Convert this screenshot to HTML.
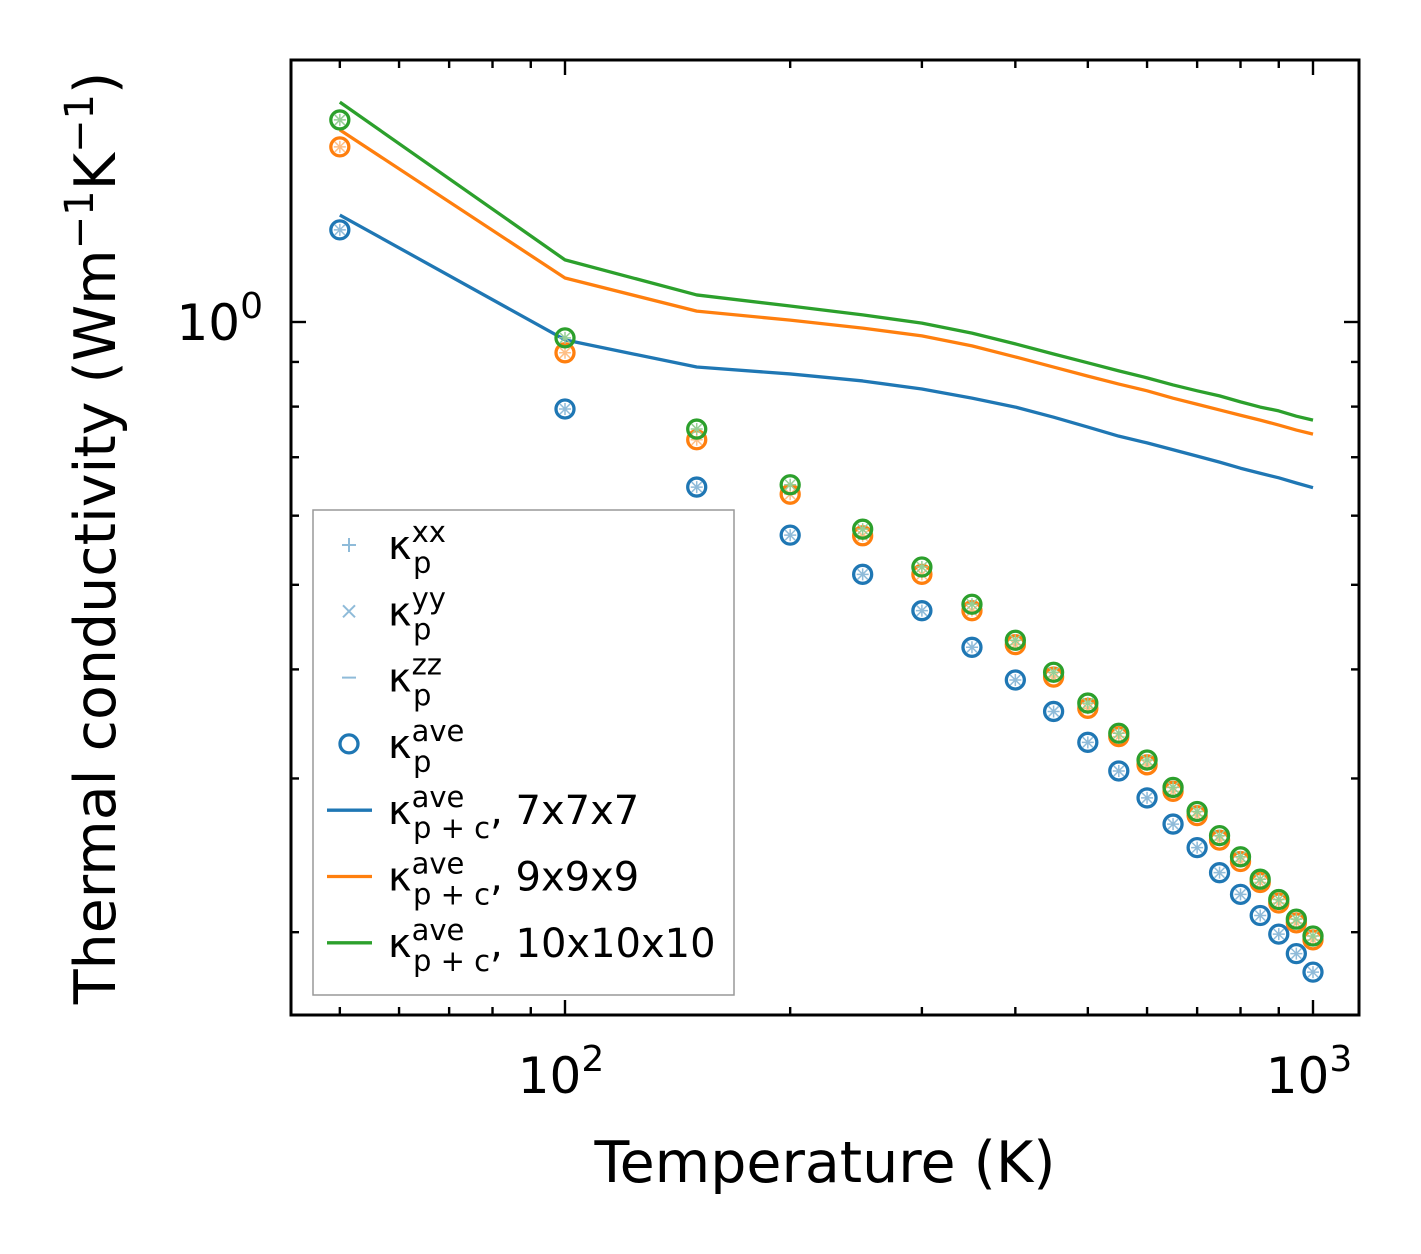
<!DOCTYPE html>
<html><head><meta charset="utf-8"><style>
body{margin:0;background:#fff}
svg{display:block;font-family:"DejaVu Sans","Liberation Sans",sans-serif}
</style></head><body>
<svg id="chart" width="1421" height="1254" viewBox="0 0 1421 1254" xmlns="http://www.w3.org/2000/svg">
<g id="marks"></g>
<g id="axes"></g>
<g id="legend"></g>
</svg>
<script>
const temps = [50,100,150,200,250,300,350,400,450,500,550,600,650,700,750,800,850,900,950,1000];
const kp7 = [1.275,0.795,0.647,0.570,0.514,0.467,0.424,0.389,0.358,0.330,0.306,0.285,0.266,0.250,0.234,0.221,0.209,0.199,0.189,0.180];
const kp9 = [1.587,0.922,0.733,0.635,0.569,0.514,0.467,0.427,0.392,0.361,0.335,0.311,0.290,0.272,0.255,0.241,0.228,0.216,0.205,0.196];
const kp10 = [1.704,0.959,0.754,0.651,0.579,0.524,0.475,0.432,0.397,0.366,0.338,0.315,0.293,0.275,0.258,0.244,0.230,0.218,0.207,0.198];
const kpc7 = [1.326,0.954,0.888,0.872,0.856,0.838,0.818,0.799,0.778,0.758,0.740,0.727,0.714,0.702,0.691,0.680,0.671,0.663,0.654,0.646];
const kpc9 = [1.660,1.123,1.029,1.005,0.984,0.964,0.939,0.912,0.888,0.867,0.849,0.834,0.818,0.805,0.793,0.782,0.772,0.762,0.752,0.744];
const kpc10 = [1.786,1.178,1.074,1.043,1.019,0.997,0.971,0.944,0.919,0.898,0.879,0.863,0.847,0.834,0.823,0.810,0.799,0.791,0.780,0.772];
const xMajor = [100,1000];
const xMajorLabels = ["2","3"];
const xMinor = [50,60,70,80,90,200,300,400,500,600,700,800,900];
const yMajor = [1];
const yMinor = [0.2,0.3,0.4,0.5,0.6,0.7,0.8,0.9,2];

const NS="http://www.w3.org/2000/svg";
const L=291,R=1359,T=60,B=1015;
function xs(t){return 565+748*(Math.log10(t)-2);}
function ys(v){return 322-873*Math.log10(v);}
function mk(tag,attrs,parent){const e=document.createElementNS(NS,tag);for(const k in attrs)e.setAttribute(k,attrs[k]);parent.appendChild(e);return e;}
const marks=document.getElementById('marks'),axes=document.getElementById('axes'),leg=document.getElementById('legend');
const cols=['#1f77b4','#ff7f0e','#2ca02c'];
const light=['#8fbbd9','#ffbf86','#95cf95'];
[kpc7,kpc9,kpc10].forEach((s,i)=>{
  const p=mk('polyline',{points:temps.map((t,j)=>xs(t)+','+ys(s[j])).join(' '),fill:'none',stroke:cols[i],'stroke-width':3.3,'stroke-linejoin':'round'},marks);
  
  
});
[kp7,kp9,kp10].forEach((s,i)=>{
  temps.forEach((t,j)=>{
    const cx=xs(t),cy=ys(s[j]);
    const g=mk('g',{},marks);
    
    
    mk('path',{d:`M${cx-6},${cy}H${cx+6}M${cx},${cy-6}V${cy+6}M${cx-5},${cy-5}L${cx+5},${cy+5}M${cx-5},${cy+5}L${cx+5},${cy-5}`,stroke:light[i],'stroke-width':1.5},g);
    mk('circle',{cx:cx,cy:cy,r:9,fill:'none',stroke:cols[i],'stroke-width':3.3},g);
  });
});
const fr=mk('rect',{x:L,y:T,width:R-L,height:B-T,fill:'none',stroke:'#000','stroke-width':3},axes);

function tick(x1,y1,x2,y2){mk('line',{x1:x1,y1:y1,x2:x2,y2:y2,stroke:'#000','stroke-width':2.4},axes);}
xMajor.forEach((t,i)=>{const x=xs(t);tick(x,B,x,B-15);tick(x,T,x,T+15);
  const tx=mk('text',{x:x-4,y:1093,'text-anchor':'middle','font-size':50},axes);
  
  tx.innerHTML='10<tspan dy="-22" font-size="36">'+xMajorLabels[i]+'</tspan>';});
xMinor.forEach(t=>{const x=xs(t);tick(x,B,x,B-8);tick(x,T,x,T+8);});
yMajor.forEach(v=>{const y=ys(v);tick(L,y,L+15,y);tick(R,y,R-15,y);
  const tx=mk('text',{x:263,y:y+18,'text-anchor':'end','font-size':50},axes);
  
  tx.innerHTML='10<tspan dy="-22" font-size="36">0</tspan>';});
yMinor.forEach(v=>{const y=ys(v);if(y<T||y>B)return;tick(L,y,L+8,y);tick(R,y,R-8,y);});
const xl=mk('text',{x:825,y:1182,'text-anchor':'middle','font-size':57},axes);

xl.textContent='Temperature (K)';
const yl=mk('text',{x:0,y:0,'text-anchor':'middle','font-size':57,transform:'translate(115,538) rotate(-90)'},axes);

yl.innerHTML='Thermal conductivity (Wm<tspan dy="-22" font-size="40">−1</tspan><tspan dy="22">K</tspan><tspan dy="-22" font-size="40">−1</tspan><tspan dy="22">)</tspan>';
const lb=mk('rect',{x:313,y:510,width:421,height:485,fill:'#fff','fill-opacity':0.8,stroke:'#999','stroke-width':1.5},leg);

const entries=[['xx','p','+'],['yy','p','x'],['zz','p','-'],['ave','p','o'],['ave','p + c','l0',', 7x7x7'],['ave','p + c','l1',', 9x9x9'],['ave','p + c','l2',', 10x10x10']];
entries.forEach((e,i)=>{
  const cy=545+i*66.3, mx=349;
  const g=mk('g',{},leg);
  
  
  const lc='#8fbbd9';
  if(e[2]=='+')mk('path',{d:`M${mx-7},${cy}H${mx+7}M${mx},${cy-7}V${cy+7}`,stroke:lc,'stroke-width':2},g);
  if(e[2]=='x')mk('path',{d:`M${mx-6},${cy-6}L${mx+6},${cy+6}M${mx-6},${cy+6}L${mx+6},${cy-6}`,stroke:lc,'stroke-width':2},g);
  if(e[2]=='-')mk('path',{d:`M${mx-7},${cy}H${mx+7}`,stroke:lc,'stroke-width':2},g);
  if(e[2]=='o')mk('circle',{cx:mx,cy:cy,r:9,fill:'none',stroke:cols[0],'stroke-width':3.3},g);
  if(e[2][0]=='l')mk('line',{x1:327,y1:cy,x2:372,y2:cy,stroke:cols[+e[2][1]],'stroke-width':3.3},g);
  const t=mk('text',{x:388,y:cy+14,'font-size':40},g);
  t.innerHTML='κ<tspan dy="-17" font-size="29">'+e[0]+'</tspan><tspan x="'+(390+23)+'" dy="31" font-size="29">'+e[1]+'</tspan>'+(e[3]?'<tspan dy="-14">'+e[3]+'</tspan>':'');
});
</script>
</body></html>
